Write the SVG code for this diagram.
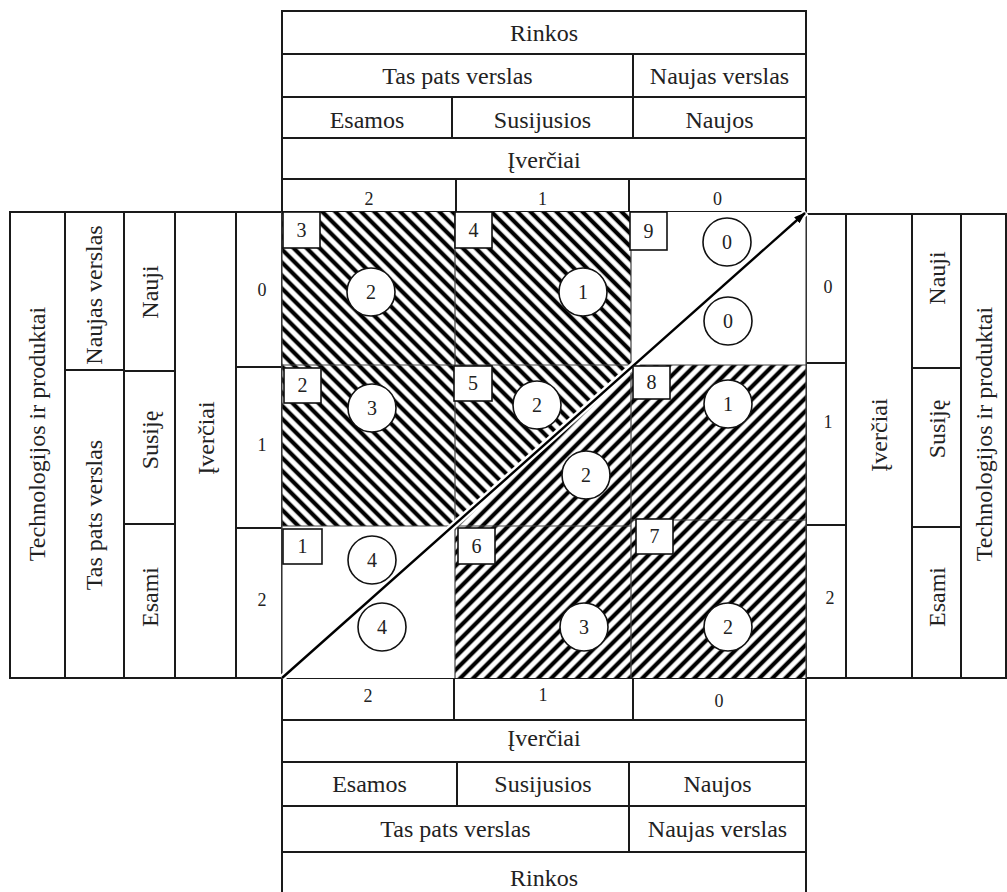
<svg xmlns="http://www.w3.org/2000/svg" width="1007" height="892" viewBox="0 0 1007 892">
<style>
.cell{fill:#fff;stroke:#1a1a1a;stroke-width:2}
.t{font-family:"Liberation Serif","DejaVu Serif",serif;font-size:24px;fill:#222;text-anchor:middle}
.n{font-family:"Liberation Serif","DejaVu Serif",serif;font-size:18px;fill:#222;text-anchor:middle}
.c{font-family:"Liberation Serif","DejaVu Serif",serif;font-size:20px;fill:#222;text-anchor:middle}
.grid{fill:none;stroke:#444;stroke-width:1.2}
.circ{fill:#fff;stroke:#111;stroke-width:1.6}
.box{fill:#fff;stroke:#111;stroke-width:1.6}
</style>
<defs>
<pattern id="hBack" patternUnits="userSpaceOnUse" width="9.2" height="9.2" patternTransform="rotate(-45)">
<rect width="9.2" height="9.2" fill="#fff"/>
<line x1="4.6" y1="0" x2="4.6" y2="9.2" stroke="#000" stroke-width="4.2"/>
</pattern>
<pattern id="hFwd" patternUnits="userSpaceOnUse" width="9.2" height="9.2" patternTransform="rotate(45)">
<rect width="9.2" height="9.2" fill="#fff"/>
<line x1="4.6" y1="0" x2="4.6" y2="9.2" stroke="#000" stroke-width="4.2"/>
</pattern>
<marker id="arr" markerWidth="12" markerHeight="8" refX="11" refY="4" orient="auto" markerUnits="userSpaceOnUse">
<path d="M0,0 L12,4 L0,8 Z" fill="#000"/>
</marker>
</defs>
<rect width="1007" height="892" fill="#fff"/>

<g id="top-header">
<rect class="cell" x="282" y="11" width="524" height="43"/>
<text class="t" x="544" y="41">Rinkos</text>
<rect class="cell" x="282" y="54" width="351" height="43"/>
<text class="t" x="457.5" y="84">Tas pats verslas</text>
<rect class="cell" x="633" y="54" width="173" height="43"/>
<text class="t" x="719.5" y="84">Naujas verslas</text>
<rect class="cell" x="282" y="97" width="170" height="41"/>
<text class="t" x="367" y="128">Esamos</text>
<rect class="cell" x="452" y="97" width="181" height="41"/>
<text class="t" x="542.5" y="128">Susijusios</text>
<rect class="cell" x="633" y="97" width="173" height="41"/>
<text class="t" x="719.5" y="128">Naujos</text>
<rect class="cell" x="282" y="138" width="524" height="41"/>
<text class="t" x="544" y="168">Įverčiai</text>
<rect class="cell" x="282" y="179" width="174" height="33"/>
<text class="n" x="369" y="205">2</text>
<rect class="cell" x="456" y="179" width="173" height="33"/>
<text class="n" x="542.5" y="205">1</text>
<rect class="cell" x="629" y="179" width="177" height="33"/>
<text class="n" x="717.5" y="205">0</text>
</g>

<g id="bottom-header">
<rect class="cell" x="282" y="678" width="172" height="42"/>
<text class="n" x="368" y="702">2</text>
<rect class="cell" x="454" y="678" width="179" height="42"/>
<text class="n" x="543" y="701">1</text>
<rect class="cell" x="633" y="678" width="173" height="42"/>
<text class="n" x="719" y="707">0</text>
<rect class="cell" x="282" y="720" width="524" height="42"/>
<text class="t" x="544" y="746">Įverčiai</text>
<rect class="cell" x="282" y="762" width="175" height="44"/>
<text class="t" x="369.5" y="792">Esamos</text>
<rect class="cell" x="457" y="762" width="172" height="44"/>
<text class="t" x="543" y="792">Susijusios</text>
<rect class="cell" x="629" y="762" width="177" height="44"/>
<text class="t" x="717.5" y="792">Naujos</text>
<rect class="cell" x="282" y="806" width="347" height="46"/>
<text class="t" x="455.5" y="837">Tas pats verslas</text>
<rect class="cell" x="629" y="806" width="177" height="46"/>
<text class="t" x="717.5" y="837">Naujas verslas</text>
<rect class="cell" x="282" y="852" width="524" height="42"/>
<text class="t" x="544" y="886">Rinkos</text>
</g>

<g id="left-table">
<rect class="cell" x="10" y="212" width="55" height="466"/>
<text class="t" transform="translate(45,434) rotate(-90)">Technologijos ir produktai</text>
<rect class="cell" x="65" y="212" width="59" height="158"/>
<text class="t" transform="translate(102,295) rotate(-90)">Naujas verslas</text>
<rect class="cell" x="65" y="370" width="59" height="308"/>
<text class="t" transform="translate(102,515) rotate(-90)">Tas pats verslas</text>
<rect class="cell" x="124" y="212" width="51" height="159"/>
<text class="t" transform="translate(158,292) rotate(-90)">Nauji</text>
<rect class="cell" x="124" y="371" width="51" height="153"/>
<text class="t" transform="translate(158,440) rotate(-90)">Susiję</text>
<rect class="cell" x="124" y="524" width="51" height="154"/>
<text class="t" transform="translate(158,597) rotate(-90)">Esami</text>
<rect class="cell" x="175" y="212" width="61" height="466"/>
<text class="t" transform="translate(214,438) rotate(-90)">Įverčiai</text>
<rect class="cell" x="236" y="212" width="46" height="155"/>
<text class="n" x="262" y="296">0</text>
<rect class="cell" x="236" y="367" width="46" height="161"/>
<text class="n" x="262" y="451">1</text>
<rect class="cell" x="236" y="528" width="46" height="150"/>
<text class="n" x="262" y="606">2</text>
</g>

<g id="right-table">
<rect class="cell" x="806" y="214" width="40" height="149"/>
<text class="n" x="828" y="293">0</text>
<rect class="cell" x="806" y="363" width="40" height="162"/>
<text class="n" x="828" y="428">1</text>
<rect class="cell" x="806" y="525" width="40" height="153"/>
<text class="n" x="830" y="604">2</text>
<rect class="cell" x="846" y="214" width="66" height="464"/>
<text class="t" transform="translate(887,435) rotate(-90)">Įverčiai</text>
<rect class="cell" x="912" y="214" width="49" height="154"/>
<text class="t" transform="translate(945,278) rotate(-90)">Nauji</text>
<rect class="cell" x="912" y="368" width="49" height="159"/>
<text class="t" transform="translate(945,429) rotate(-90)">Susiję</text>
<rect class="cell" x="912" y="527" width="49" height="151"/>
<text class="t" transform="translate(945,597) rotate(-90)">Esami</text>
<rect class="cell" x="961" y="214" width="45" height="464"/>
<text class="t" transform="translate(992,434) rotate(-90)">Technologijos ir produktai</text>
</g>

<g id="matrix-fills">
<rect x="282" y="212" width="173" height="153" fill="url(#hBack)"/>
<rect x="455" y="212" width="176" height="153" fill="url(#hBack)"/>
<rect x="631" y="212" width="175" height="153" fill="#fff"/>
<rect x="282" y="365" width="173" height="161" fill="url(#hBack)"/>
<polygon points="455,365 631,365 631,367.6 455,524.1" fill="url(#hBack)"/>
<polygon points="631,367.6 631,526 455,526 455,524.1" fill="url(#hFwd)"/>
<rect x="631" y="365" width="175" height="161" fill="url(#hFwd)"/>
<rect x="282" y="526" width="173" height="152" fill="#fff"/>
<rect x="455" y="526" width="176" height="152" fill="url(#hFwd)"/>
<rect x="631" y="520" width="175" height="158" fill="url(#hFwd)"/>
<path class="grid" d="M282,212 V678 M455,212 V678 M631,212 V678 M806,212 V678 M282,365 H806 M282,526 H631 M631,520 H806"/>
</g>

<g id="connectors">
<line x1="282" y1="678" x2="806" y2="212" stroke="#fff" stroke-width="7"/>
<line x1="282" y1="678" x2="805" y2="213" stroke="#000" stroke-width="2.4" marker-end="url(#arr)"/>
</g>

<g id="cell-3"><rect class="box" x="283" y="212" width="37" height="36"/><text class="c" x="301.5" y="237">3</text>
<circle class="circ" cx="371" cy="292" r="24"/><text class="c" x="371" y="299">2</text></g>
<g id="cell-4"><rect class="box" x="455" y="212" width="37" height="36"/><text class="c" x="473.5" y="237">4</text>
<circle class="circ" cx="583" cy="292" r="24"/><text class="c" x="583" y="299">1</text></g>
<g id="cell-9"><rect class="box" x="630" y="212" width="37" height="38"/><text class="c" x="648.5" y="238">9</text>
<circle class="circ" cx="727" cy="242" r="24"/><text class="c" x="727" y="249">0</text>
<circle class="circ" cx="728" cy="321" r="24"/><text class="c" x="728" y="328">0</text></g>
<g id="cell-2"><rect class="box" x="284" y="368" width="37" height="35"/><text class="c" x="302.5" y="392">2</text>
<circle class="circ" cx="372" cy="408" r="24"/><text class="c" x="372" y="415">3</text></g>
<g id="cell-5"><rect class="box" x="454" y="366" width="38" height="35"/><text class="c" x="473" y="390">5</text>
<circle class="circ" cx="537" cy="405" r="24"/><text class="c" x="537" y="412">2</text>
<circle class="circ" cx="586" cy="475" r="24"/><text class="c" x="586" y="482">2</text></g>
<g id="cell-8"><rect class="box" x="633" y="366" width="37" height="33"/><text class="c" x="651.5" y="389">8</text>
<circle class="circ" cx="728" cy="404" r="24"/><text class="c" x="728" y="411">1</text></g>
<g id="cell-1"><rect class="box" x="283" y="529" width="39" height="35"/><text class="c" x="302.5" y="553">1</text>
<circle class="circ" cx="372" cy="560" r="24"/><text class="c" x="372" y="567">4</text>
<circle class="circ" cx="382" cy="627" r="24"/><text class="c" x="382" y="634">4</text></g>
<g id="cell-6"><rect class="box" x="458" y="528" width="37" height="36"/><text class="c" x="476.5" y="553">6</text>
<circle class="circ" cx="584" cy="627" r="24"/><text class="c" x="584" y="634">3</text></g>
<g id="cell-7"><rect class="box" x="636" y="519" width="37" height="35"/><text class="c" x="654.5" y="543">7</text>
<circle class="circ" cx="728" cy="627" r="24"/><text class="c" x="728" y="634">2</text></g>
</svg>
